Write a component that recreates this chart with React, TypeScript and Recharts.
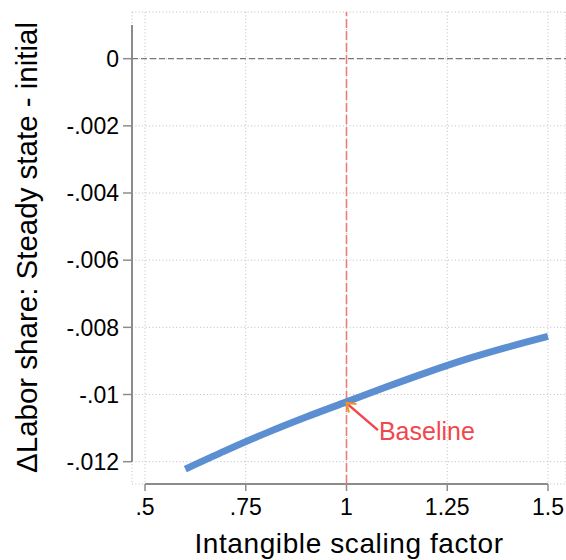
import React from "react";
import {
  LineChart,
  Line,
  XAxis,
  YAxis,
  CartesianGrid,
  ReferenceLine,
} from "recharts";

// ---- data ----
const scalingFactor = [0.6, 0.7, 0.8, 0.9, 1.0, 1.1, 1.2, 1.3, 1.4, 1.5];
const laborShareChange = [
  -0.01222, -0.01167, -0.01115, -0.01067, -0.01022, -0.00977, -0.00934,
  -0.00894, -0.00859, -0.00827,
];
const xTicks = [0.5, 0.75, 1, 1.25, 1.5];
const yTicks = [0, -0.002, -0.004, -0.006, -0.008, -0.01, -0.012];
const baselineX = 1;
const baselineLabel = "Baseline";
// arrow: tail (near label) -> tip (baseline point)
const arrowTail = { x: 1.078, y: -0.01106 };
const arrowTip = { x: 1.0, y: -0.01025 };

const data = scalingFactor.map((x, i) => ({ x, y: laborShareChange[i] }));

const X_DOMAIN: [number, number] = [0.4677, 1.5447];
const Y_DOMAIN: [number, number] = [-0.012665, 0.00139];

const FONT = "'Liberation Sans', Arial, Helvetica, sans-serif";
const AXIS_GRAY = "#8c8c8c";

const fmt = (v: number) => {
  if (v === 0) return "0";
  return String(v).replace(/^(-?)0\./, "$1.");
};

const ArrowShape = (props: any) => {
  const { x1, y1, x2, y2 } = props;
  if ([x1, y1, x2, y2].some((v) => typeof v !== "number" || isNaN(v))) return <g />;
  // x1,y1 = tail ; x2,y2 = tip
  const ang = Math.atan2(y1 - y2, x1 - x2);
  const L = 10;
  const half = (35 * Math.PI) / 180;
  const a1x = x2 + L * Math.cos(ang - half);
  const a1y = y2 + L * Math.sin(ang - half);
  const a2x = x2 + L * Math.cos(ang + half);
  const a2y = y2 + L * Math.sin(ang + half);
  return (
    <g>
      <line x1={x1} y1={y1} x2={x2 + 2} y2={y2 + 2} stroke="#f2464d" strokeWidth={2.5} />
      <polyline
        points={`${a1x},${a1y} ${x2},${y2} ${a2x},${a2y}`}
        fill="none"
        stroke="#f7941d"
        strokeWidth={2}
      />
      <text
        x={x1 + 1}
        y={y1 + 10}
        fill="#f2464d"
        fontSize={25}
        fontFamily={FONT}
      >
        {baselineLabel}
      </text>
    </g>
  );
};

export default function App() {
  return (
    <div style={{ position: "absolute", left: 0, top: 0, width: 566, height: 560, background: "#fff" }}>
      <LineChart
        width={566}
        height={560}
        data={data}
        margin={{ top: 12, right: 0, left: 0, bottom: 0 }}
      >
        <CartesianGrid
          stroke="#bdbdbd"
          strokeDasharray="1 2.4"
          strokeWidth={1}
        />
        <XAxis
          dataKey="x"
          type="number"
          domain={X_DOMAIN}
          allowDataOverflow
          ticks={xTicks}
          tickFormatter={fmt}
          axisLine={false}
          tickLine={{ stroke: AXIS_GRAY, strokeWidth: 1.5 }}
          tickSize={7}
          tickMargin={8}
          height={76}
          tick={{ fill: "#000", fontSize: 23, fontFamily: FONT }}
          interval={0}
          label={{
            content: (p: any) => {
              const vb = p.viewBox || {};
              return (
                <text
                  x={vb.x + vb.width / 2}
                  y={vb.y + 69}
                  textAnchor="middle"
                  fontSize={28}
                  fontFamily={FONT}
                  fill="#000"
                  letterSpacing={0.6}
                >
                  Intangible scaling factor
                </text>
              );
            },
          }}
        />
        <YAxis
          type="number"
          domain={Y_DOMAIN}
          allowDataOverflow
          ticks={yTicks}
          tickFormatter={fmt}
          axisLine={false}
          tickLine={{ stroke: AXIS_GRAY, strokeWidth: 1.5 }}
          tickSize={9}
          tickMargin={4}
          width={132}
          tick={{ fill: "#000", fontSize: 23, fontFamily: FONT }}
          interval={0}
          label={{
            content: (p: any) => {
              const vb = p.viewBox || {};
              const cx = 37;
              const cy = 247.5;
              return (
                <text
                  x={cx}
                  y={cy}
                  transform={`rotate(-90 ${cx} ${cy})`}
                  textAnchor="middle"
                  fontSize={29.5}
                  fontFamily={FONT}
                  fill="#000"
                >
                  ΔLabor share: Steady state - initial
                </text>
              );
            },
          }}
        />
        {/* axis lines spanning tick range */}
        <ReferenceLine
          segment={[
            { x: X_DOMAIN[0], y: yTicks[yTicks.length - 1] },
            { x: X_DOMAIN[0], y: 0.001 },
          ]}
          stroke={AXIS_GRAY}
          strokeWidth={2}
          ifOverflow="visible"
        />
        <ReferenceLine
          segment={[
            { x: xTicks[0], y: Y_DOMAIN[0] },
            { x: xTicks[xTicks.length - 1], y: Y_DOMAIN[0] },
          ]}
          stroke={AXIS_GRAY}
          strokeWidth={2}
          ifOverflow="visible"
        />
        <ReferenceLine y={0} stroke="#7a7a7a" strokeWidth={1.2} strokeDasharray="6 3" />
        <ReferenceLine
          x={baselineX}
          stroke="#f07b7b"
          strokeWidth={1.6}
          strokeDasharray="9 3"
        />
        <Line
          dataKey="y"
          type="monotone"
          stroke="#5b8fd1"
          strokeWidth={7}
          dot={false}
          isAnimationActive={false}
          strokeLinecap="butt"
        />
        <ReferenceLine
          segment={[arrowTail, arrowTip]}
          ifOverflow="visible"
          shape={ArrowShape}
        />
      </LineChart>
    </div>
  );
}
